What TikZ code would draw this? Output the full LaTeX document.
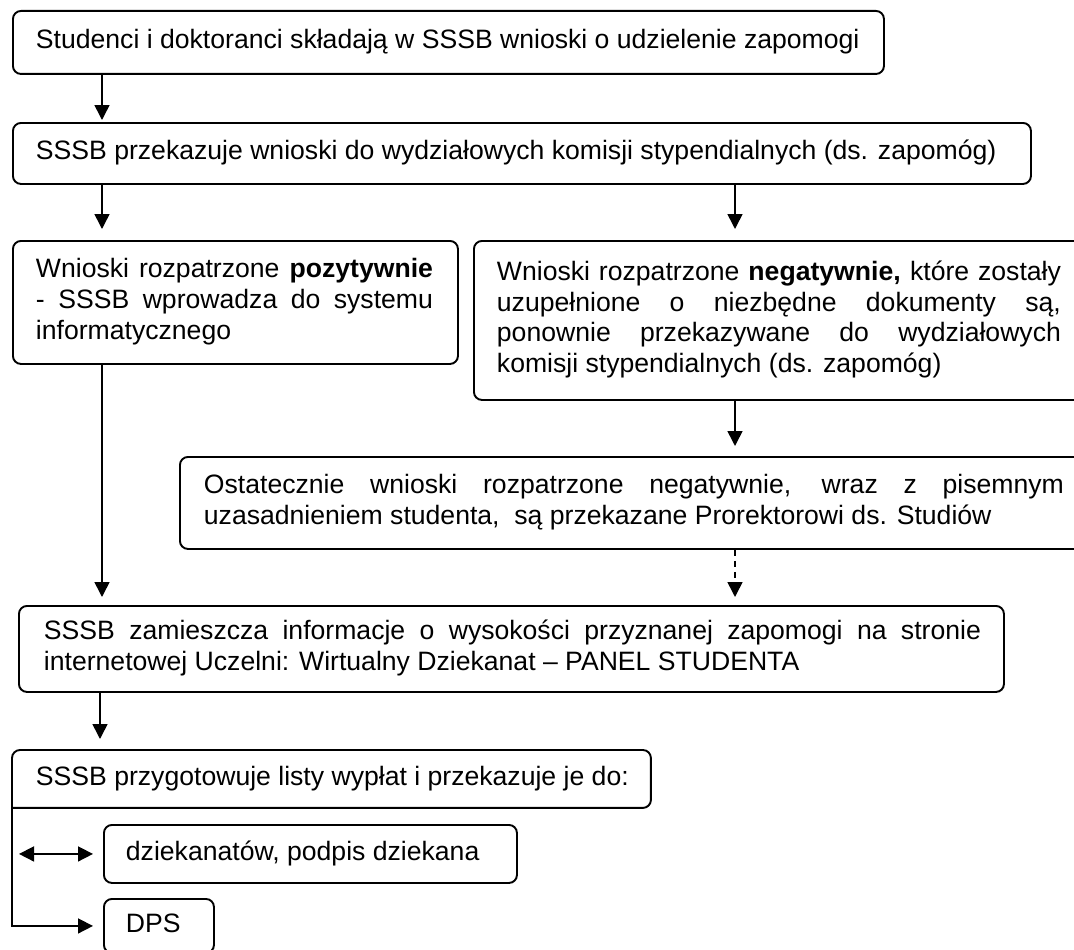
\documentclass[tikz,border=0pt]{standalone}
\usepackage{fontspec}
\setmainfont{Liberation Sans}
\usetikzlibrary{arrows.meta}
\newcommand{\bxt}[4]{\hspace*{#1pt}\parbox{#2pt}{\tolerance=10000 \hyphenpenalty=10000 \exhyphenpenalty=10000 \strut#4\strut}\hspace*{#3pt}}
\begin{document}
\begin{tikzpicture}[x=1pt,y=-1pt,
  box/.style={draw, line width=1.9pt, rounded corners=8pt, inner sep=0pt, anchor=north west, font=\fontsize{26.6pt}{30.6pt}\selectfont},
  boxline/.style={line width=1.9pt, rounded corners=8pt},
  conn/.style={line width=1.6pt, -{Triangle[length=15pt,width=15pt]}},
  conn2/.style={line width=1.6pt, {Triangle[length=15pt,width=15pt]}-{Triangle[length=15pt,width=15pt]}},
  dashconn/.style={conn, dash pattern=on 6pt off 5pt}]
\useasboundingbox (0,0) rectangle (1074,950);
\clip (0,0) rectangle (1074,950);

\node[box, minimum width=871pt, minimum height=63pt] (b1) at (12,10)
  {\bxt{23}{838}{10}{Studenci i doktoranci składają w SSSB wnioski o udzielenie zapomogi}};
\node[box, minimum width=1018pt, minimum height=61pt] (b2) at (12,122)
  {\bxt{23}{985}{10}{SSSB przekazuje wnioski do wydziałowych komisji stypendialnych (ds. zapomóg)}};
\node[box, minimum width=445pt, minimum height=123pt] (b3) at (12,240)
  {\bxt{23}{397}{25}{Wnioski rozpatrzone \textbf{pozytywnie}\linebreak - SSSB wprowadza do systemu\linebreak informatycznego}};
\node[box, minimum width=612pt, minimum height=159pt] (b4) at (473,240)
  {\bxt{23}{564}{25}{Wnioski rozpatrzone \textbf{negatywnie,} które zostały\linebreak uzupełnione o niezbędne dokumenty są,\linebreak ponownie przekazywane do wydziałowych\linebreak komisji stypendialnych (ds. zapomóg)}};
\node[box, minimum width=916pt, minimum height=92pt] (b5) at (179,456)
  {\bxt{24}{860}{32}{Ostatecznie wnioski rozpatrzone negatywnie, wraz z pisemnym\linebreak uzasadnieniem studenta, \ są przekazane Prorektorowi ds. Studiów}};
\node[box, minimum width=985pt, minimum height=86pt] (b6) at (18,605)
  {\bxt{25}{937}{23}{SSSB zamieszcza informacje o wysokości przyznanej zapomogi na stronie\linebreak internetowej Uczelni: Wirtualny Dziekanat – PANEL STUDENTA}};
\node[box, draw=none, minimum width=637pt, minimum height=56pt] (b7) at (12,750)
  {\bxt{23}{604}{10}{SSSB przygotowuje listy wypłat i przekazuje je do:}};
\node[box, minimum width=413pt, minimum height=58pt] (b8) at (103,824)
  {\bxt{22}{381}{10}{dziekanatów, podpis dziekana}};
\node[box, minimum width=110pt, minimum height=54pt] (b9) at (103,898)
  {\bxt{22}{78}{10}{DPS}};

% outline of b7 with a square lower-left corner
\draw[boxline] (b7.south west) -- (b7.north west) -- (b7.north east) -- (b7.south east) -- (b7.south west);

% connectors
\draw[conn, shorten >=2pt] ([xshift=90pt]b1.south west) -- ([xshift=90pt]b1.south west |- b2.north);
\draw[conn, shorten >=11pt] ([xshift=90pt]b2.south west) -- ([xshift=90pt]b2.south west |- b3.north);
\draw[conn, shorten >=11pt] ([xshift=723pt]b2.south west) -- ([xshift=723pt]b2.south west |- b4.north);
\draw[conn, shorten >=8pt] ([xshift=90pt]b3.south west) -- ([xshift=90pt]b3.south west |- b6.north);
\draw[conn, shorten >=10pt] ([xshift=262pt]b4.south west) -- ([xshift=262pt]b4.south west |- b5.north);
\draw[dashconn, shorten >=8pt] ([xshift=556pt]b5.south west) -- ([xshift=556pt]b5.south west |- b6.north);
\draw[conn, shorten >=11pt] ([xshift=82pt]b6.south west) -- ([xshift=82pt]b6.south west |- b7.north);
\draw[conn, shorten >=10pt] (b7.west) |- (b9.west);
\coordinate (dl) at ([xshift=-84pt]b8.west);
\draw[conn2, shorten >=10pt] (dl) -- (b8.west);
\end{tikzpicture}
\end{document}
